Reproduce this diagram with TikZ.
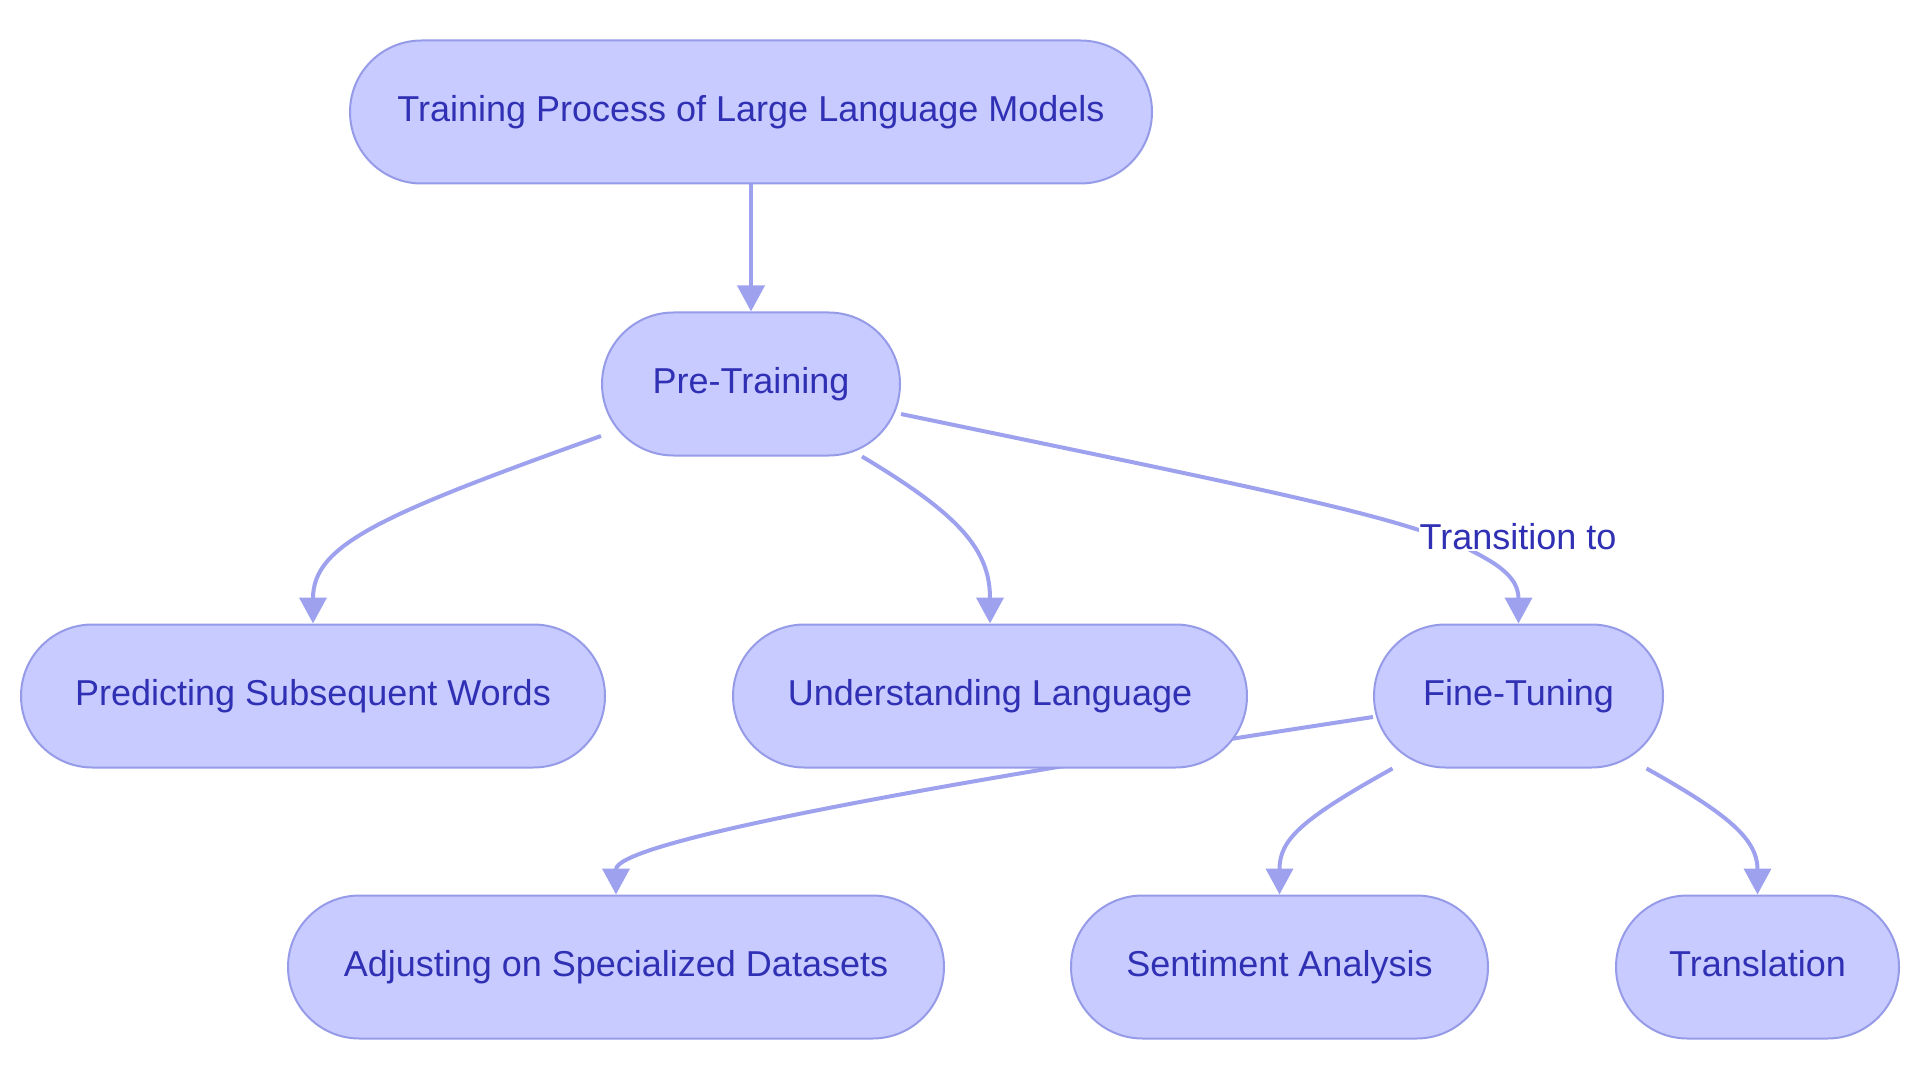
\documentclass[tikz,border=0pt]{standalone}
\usepackage{fontspec}
\setmainfont{Liberation Sans}
\usetikzlibrary{shapes.misc,arrows.meta}
\definecolor{nodefill}{RGB}{200,203,255}
\definecolor{nodeline}{RGB}{150,155,232}
\definecolor{edgecol}{RGB}{158,162,238}
\definecolor{txtcol}{RGB}{48,48,180}
\pgfdeclarelayer{bg}
\pgfsetlayers{bg,main}
\tikzset{
  box/.style={rounded rectangle, draw=nodeline, line width=2pt, fill=nodefill,
    text=txtcol, font=\fontsize{36}{43}\selectfont, minimum height=143pt, inner sep=0pt,
    text height=26pt, text depth=7pt},
  link/.style={draw=edgecol, line width=4pt, -{Triangle[length=26pt,width=27pt]}},
  lbl/.style={fill=white, text=txtcol, font=\fontsize{36}{43}\selectfont, inner sep=1pt}
}
\begin{document}
\begin{tikzpicture}[x=1pt,y=-1pt]
\useasboundingbox (0,0) rectangle (1920,1083);
\node[box, minimum width=802pt] (top) at (751,112) {Training Process of Large Language Models};
\node[box, minimum width=298pt] (pre) at (751,384) {Pre-Training};
\node[box, minimum width=584pt] (pred) at (313,696) {Predicting Subsequent Words};
\node[box, minimum width=514pt] (und) at (990,696) {Understanding Language};
\node[box, minimum width=289pt] (fine) at (1518.5,696) {Fine-Tuning};
\node[box, minimum width=656pt] (adj) at (616,967) {Adjusting on Specialized Datasets};
\node[box, minimum width=417pt] (sent) at (1279.5,967) {Sentiment Analysis};
\node[box, minimum width=283pt] (trans) at (1757.5,967) {Translation};
\node[lbl] (tl) at (1518,537) {Transition to};
\begin{pgfonlayer}{bg}
\draw[link] (top.south) -- (pre.north);
\draw[link] ([yshift=-52pt]pre.west) .. controls (380,515) and (pred.north |- 0,545) .. (pred.north);
\draw[link] ([xshift=111pt]pre.south) .. controls (960,515) and (und.north |- 0,550) .. (und.north);
\draw[link] ([yshift=-30pt]pre.east) .. controls (1300,497) and (1420,520) .. (1485,558)
   .. controls (1510,572) and (fine.north |- 0,585) .. (fine.north);
\draw[link] ([yshift=-21pt]fine.west) .. controls (860,795) and (adj.north |- 0,845) .. (adj.north);
\draw[link] ([xshift=-126pt]fine.south) .. controls (1300,820) and (sent.north |- 0,840) .. (sent.north);
\draw[link] ([xshift=128pt]fine.south) .. controls (1730,815) and (trans.north |- 0,840) .. (trans.north);
\end{pgfonlayer}
\end{tikzpicture}
\end{document}
